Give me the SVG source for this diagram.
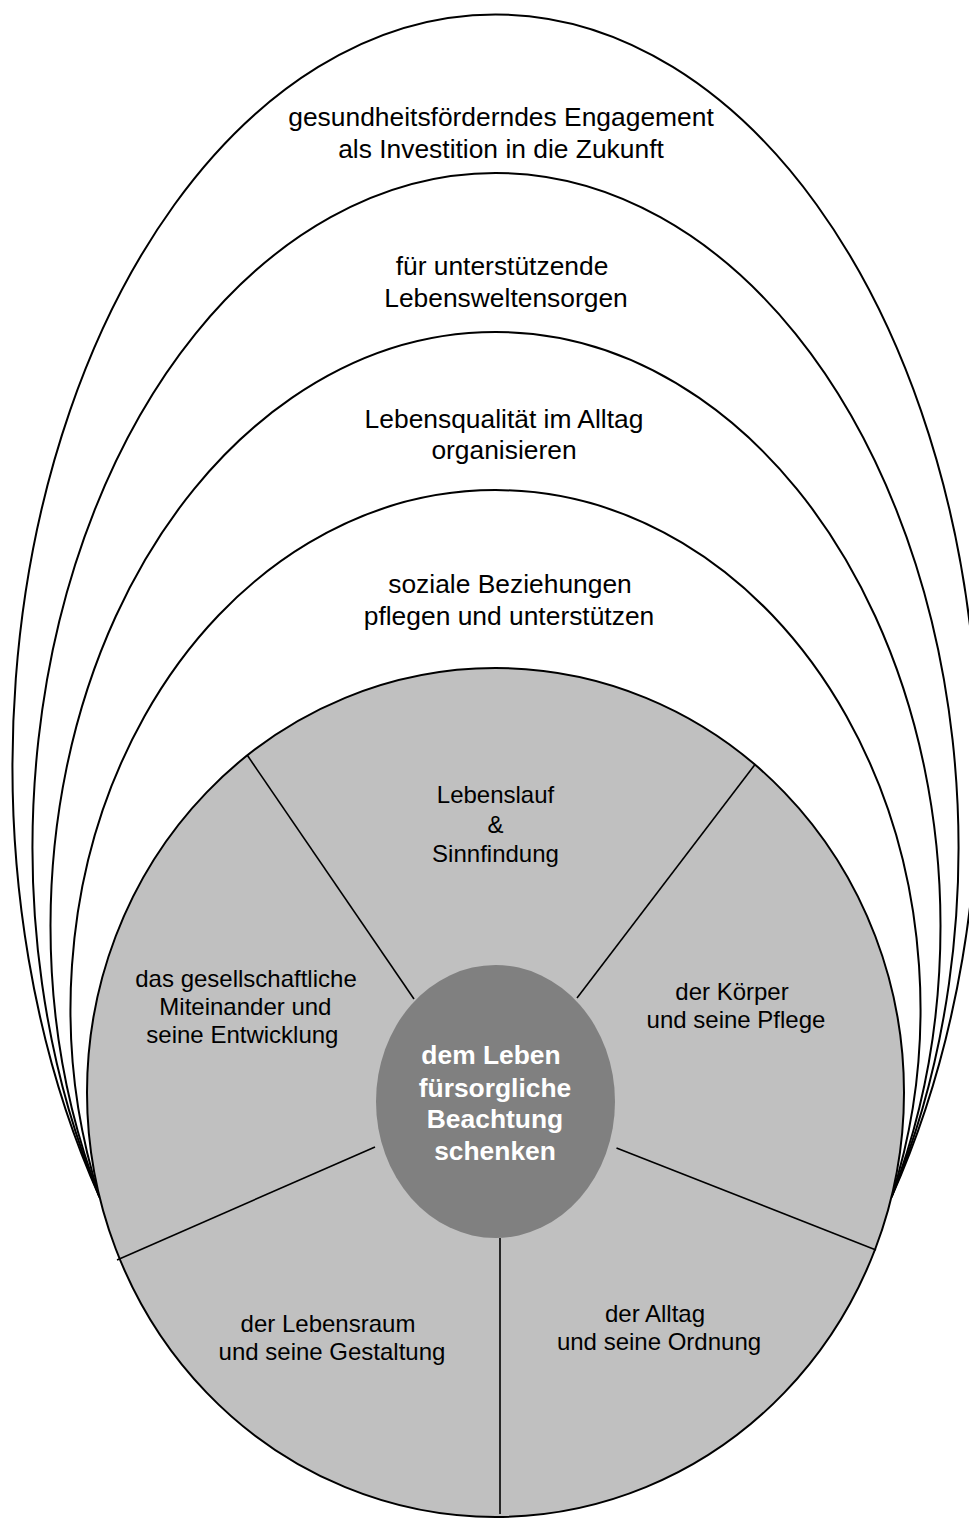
<svg xmlns="http://www.w3.org/2000/svg" width="969" height="1519" viewBox="0 0 969 1519">
<style>
.arch{fill:none;stroke:#000;stroke-width:2}
.core{fill:#c0c0c0;stroke:#000;stroke-width:2}
.hub{fill:#808080;stroke:none}
.div{stroke:#000;stroke-width:1.6;fill:none}
.t{font-family:"Liberation Sans",Arial,sans-serif;fill:#000;text-anchor:middle}
.o{font-size:26.4px}
.i{font-size:24px}
.c{font-family:"Liberation Sans",Arial,sans-serif;font-size:26.4px;font-weight:bold;fill:#fff;text-anchor:middle}
</style>
<rect width="969" height="1519" fill="#fff"/>
<g id="ring1">
<path class="arch" d="M 99.5 1197 A 483 752 0 1 1 891.5 1197"/>
<text class="t o" x="501" y="126">gesundheitsförderndes Engagement</text>
<text class="t o" x="501" y="158">als Investition in die Zukunft</text>
</g>
<g id="ring2">
<path class="arch" d="M 99.5 1197 A 463 674.5 0 1 1 891.5 1197"/>
<text class="t o" x="502" y="275">für unterstützende</text>
<text class="t o" x="506" y="307">Lebensweltensorgen</text>
</g>
<g id="ring3">
<path class="arch" d="M 99.5 1197 A 445 594 0 1 1 891.5 1197"/>
<text class="t o" x="504" y="428">Lebensqualität im Alltag</text>
<text class="t o" x="504" y="459">organisieren</text>
</g>
<g id="ring4">
<path class="arch" d="M 99.5 1197 A 425 518.6 0 1 1 891.5 1197"/>
<text class="t o" x="510" y="593">soziale Beziehungen</text>
<text class="t o" x="509" y="625">pflegen und unterstützen</text>
</g>
<g id="core">
<ellipse class="core" cx="495.5" cy="1092.5" rx="408.5" ry="424.5"/>
</g>
<g id="connectors">
<line class="div" x1="247.3" y1="755.3" x2="414" y2="999"/>
<line class="div" x1="755" y1="764.6" x2="577" y2="998"/>
<line class="div" x1="375" y1="1147" x2="117" y2="1260"/>
<line class="div" x1="616.5" y1="1148" x2="876" y2="1250"/>
<line class="div" x1="500" y1="1238" x2="500" y2="1514"/>
</g>
<g id="seg-lebenslauf">
<text class="t i" x="495.5" y="803">Lebenslauf</text>
<text class="t i" x="495.5" y="832.5">&amp;</text>
<text class="t i" x="495.5" y="862">Sinnfindung</text>
</g>
<g id="seg-gesellschaft">
<text class="t i" x="246" y="987">das gesellschaftliche</text>
<text class="t i" x="245.4" y="1015">Miteinander und</text>
<text class="t i" x="242.4" y="1043">seine Entwicklung</text>
</g>
<g id="seg-koerper">
<text class="t i" x="732" y="1000">der Körper</text>
<text class="t i" x="736" y="1028">und seine Pflege</text>
</g>
<g id="seg-lebensraum">
<text class="t i" x="328" y="1331.5">der Lebensraum</text>
<text class="t i" x="332" y="1360">und seine Gestaltung</text>
</g>
<g id="seg-alltag">
<text class="t i" x="655" y="1321.5">der Alltag</text>
<text class="t i" x="659" y="1350">und seine Ordnung</text>
</g>
<g id="hub">
<ellipse class="hub" cx="495.5" cy="1101.5" rx="119.5" ry="136.5"/>
<text class="c" x="491" y="1064">dem Leben</text>
<text class="c" x="495" y="1096.5">fürsorgliche</text>
<text class="c" x="495" y="1128">Beachtung</text>
<text class="c" x="495" y="1160">schenken</text>
</g>
</svg>
